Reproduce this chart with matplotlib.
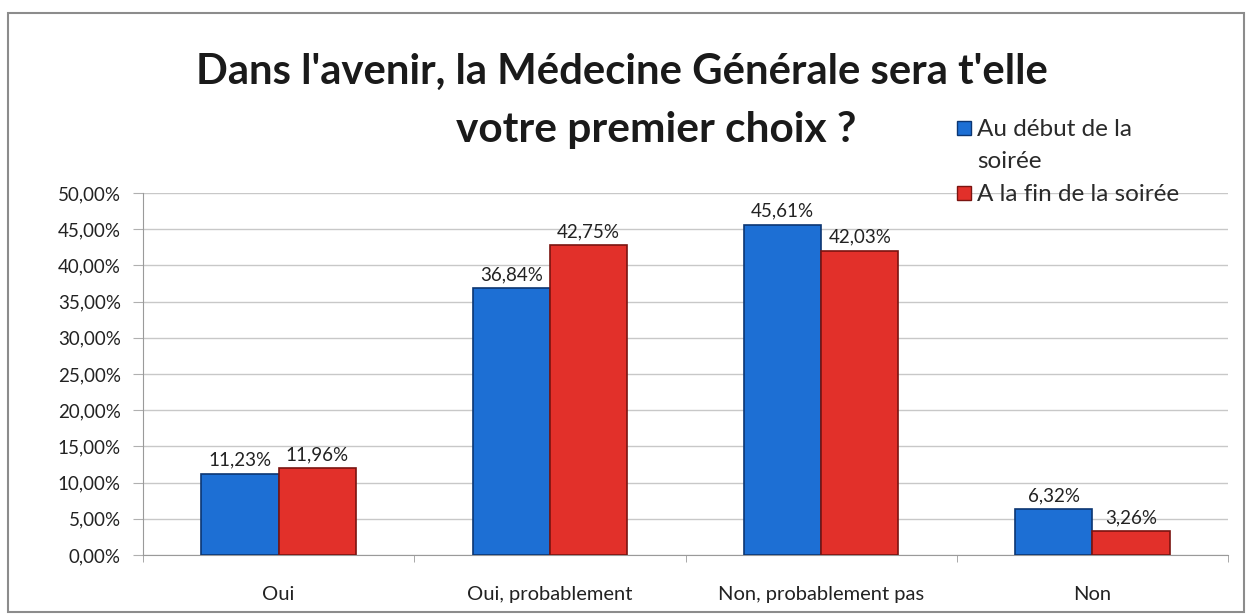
import matplotlib
matplotlib.use("Agg")
import matplotlib.pyplot as plt
from matplotlib.patches import Rectangle
import numpy as np

categories = ["Oui", "Oui, probablement", "Non, probablement pas", "Non"]
debut = [11.23, 36.84, 45.61, 6.32]
fin = [11.96, 42.75, 42.03, 3.26]
series_labels = ["Au début de la\nsoirée", "A la fin de la soirée"]
yticks = [0, 5, 10, 15, 20, 25, 30, 35, 40, 45, 50]
title_lines = ["Dans l'avenir, la Médecine Générale sera t'elle", "votre premier choix ?"]

def fmt(v):
    return f"{v:.2f}".replace(".", ",") + "%"

FONT = "Lato"
W, H = 1246, 615
fig = plt.figure(figsize=(W / 100, H / 100), dpi=100)
fig.patch.set_facecolor("white")
fig.add_artist(Rectangle((8 / W, 3 / H), (W - 10) / W, (H - 16) / H,
                         transform=fig.transFigure, fill=False,
                         edgecolor="#8c8c8c", linewidth=1.5))

ax = fig.add_axes([143 / W, 1 - 555 / H, (1228 - 143) / W, (555 - 193) / H])
x = np.arange(len(categories))
bw = 0.285
blue, red = "#1d6fd4", "#e2302a"
edges = ["#0c3672", "#7a1410"]
b1 = ax.bar(x - bw / 2, debut, bw, color=blue, edgecolor=edges[0], linewidth=1.2, zorder=3)
b2 = ax.bar(x + bw / 2, fin, bw, color=red, edgecolor=edges[1], linewidth=1.2, zorder=3)

for bars, vals in ((b1, debut), (b2, fin)):
    for r, v in zip(bars, vals):
        ax.text(r.get_x() + r.get_width() / 2, v + 0.7, fmt(v), ha="center", va="bottom",
                fontsize=13.5, family=FONT, color="#222222", zorder=4)

ax.set_xlim(-0.5, len(categories) - 0.5)
ax.set_ylim(0, 50)
ax.set_yticks(yticks)
ax.set_yticklabels([fmt(t) for t in yticks], fontsize=13.5, family=FONT, color="#222222")
ax.set_xticks(x)
ax.set_xticklabels(categories, fontsize=14.5, family=FONT, color="#222222")
ax.set_xticks(np.arange(-0.5, len(categories)), minor=True)
ax.tick_params(axis="x", which="major", length=0, pad=22)
ax.tick_params(axis="x", which="minor", length=5, color="#9a9a9a")
ax.tick_params(axis="y", length=7, color="#b0b0b0", pad=9)
ax.grid(axis="y", color="#c8c8c8", linewidth=1, zorder=0)
for s in ("top", "right"):
    ax.spines[s].set_visible(False)
ax.spines["left"].set_color("#9a9a9a")
ax.spines["bottom"].set_color("#9a9a9a")

renderer = fig.canvas.get_renderer()

def fit_text(xc, yc, s, target_w, size0, **kw):
    t = fig.text(xc / W, 1 - yc / H, s, ha="center", va="center", fontsize=size0, **kw)
    w = t.get_window_extent(renderer).width
    t.set_fontsize(size0 * target_w / w)
    return t

fit_text(622, 72, title_lines[0], 852, 30, fontweight="bold", family=FONT, color="#1a1a1a")
fit_text(656, 130, title_lines[1], 400, 30, fontweight="bold", family=FONT, color="#1a1a1a")

# legend drawn manually (square + text lines per series)
leg_rows = [128, 193]
line_step = 32
for (yc, lab, fc, ec) in zip(leg_rows, series_labels, [blue, red], edges):
    fig.add_artist(Rectangle((957 / W, 1 - (yc + 7) / H), 14 / W, 14 / H,
                             transform=fig.transFigure, facecolor=fc, edgecolor=ec, linewidth=1))
    for i, line in enumerate(lab.split("\n")):
        fig.text(977 / W, 1 - (yc + 8 + i * line_step) / H, line, ha="left", va="baseline",
                 fontsize=17.5, family=FONT, color="#2a2a2a")

fig.savefig("out.png", dpi=100)
